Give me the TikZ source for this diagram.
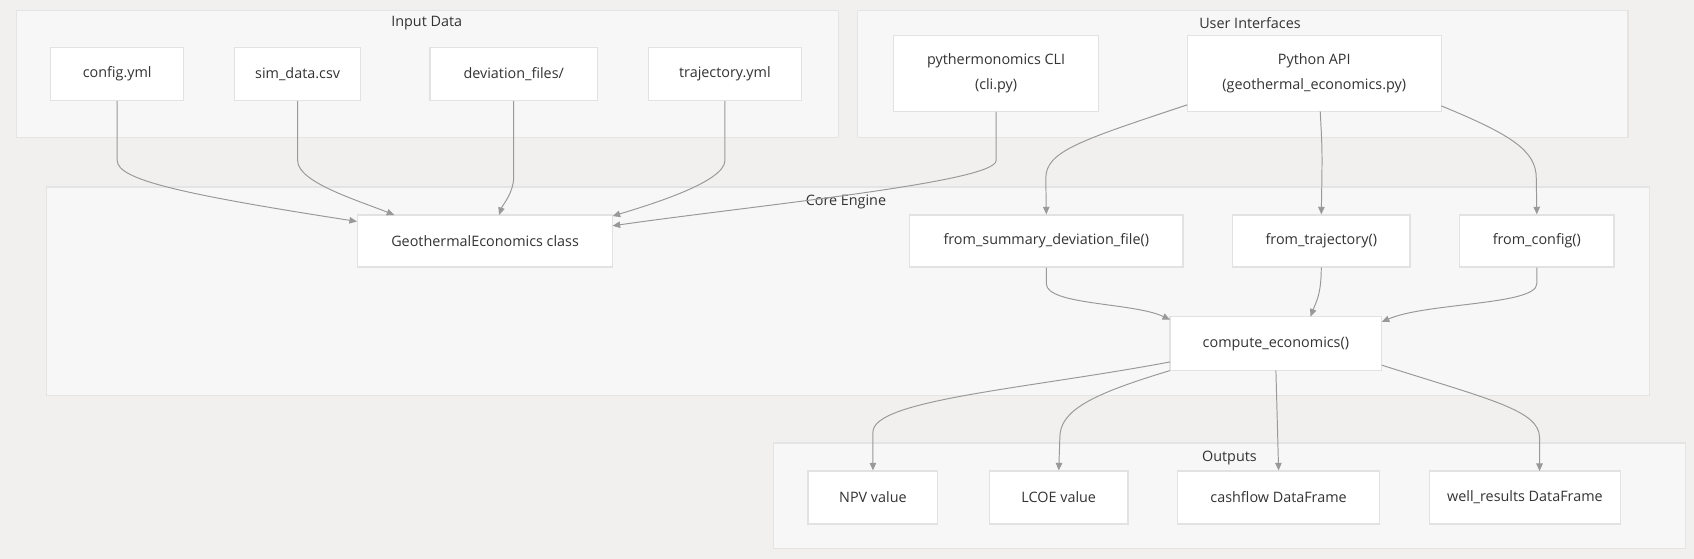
\documentclass[tikz,border=0pt]{standalone}
\usepackage{fontspec}
\setmainfont{Open Sans}
\usetikzlibrary{arrows.meta}
\definecolor{bgc}{HTML}{F1F0EE}
\definecolor{clf}{HTML}{F7F7F7}
\definecolor{cld}{HTML}{E4E4E4}
\definecolor{nbd}{HTML}{E2E2E2}
\definecolor{edc}{HTML}{999999}
\definecolor{txc}{HTML}{333333}
\tikzset{
  cluster/.style={draw=cld, fill=clf, line width=1.2pt},
  box/.style={draw=nbd, fill=white, line width=1.2pt, inner sep=0pt, text=txc, font=\fontsize{13.3}{23}\selectfont, align=center},
  ctitle/.style={text=txc, font=\fontsize{13.3}{15}\selectfont, inner sep=0pt},
  edge/.style={draw=edc, line width=0.9pt, -{Triangle[length=7pt,width=6pt]}},
}
\newcommand{\boxat}[6]{% name, x1, y1, x2, y2, text
  \node[box, minimum width={#4-#2}, minimum height={#5-#3}] (#1) at ({(#2+#4)/2},{(#3+#5)/2}) {#6};}
\begin{document}
\begin{tikzpicture}[x=1pt,y=-1pt]
\fill[bgc] (0,0) rectangle (1568,517);
\useasboundingbox (0,0) rectangle (1568,517);
% clusters
\draw[cluster] (15,10) rectangle (776,127);
\node[ctitle] (tin) at (395,21) {Input Data};
\draw[cluster] (794,10) rectangle (1507,127);
\node[ctitle] (tui) at (1157,21) {User Interfaces};
\draw[cluster] (43,173) rectangle (1527,366);
\node[ctitle] (tce) at (783,187) {Core Engine};
\draw[cluster] (716,410) rectangle (1560,508);
\node[ctitle] (tout) at (1138,424) {Outputs};
% nodes
\boxat{cfg}{47}{44}{170}{93}{config.yml}
\boxat{sim}{217}{44}{334}{93}{sim\_data.csv}
\boxat{dev}{398}{44}{553}{93}{deviation\_files/}
\boxat{traj}{600}{44}{742}{93}{trajectory.yml}
\boxat{cli}{827}{33}{1017}{103}{pythermonomics CLI\\(cli.py)}
\boxat{api}{1099}{33}{1334}{103}{Python API\\(geothermal\_economics.py)}
\boxat{geo}{331}{199}{567}{247}{GeothermalEconomics class}
\boxat{fsd}{842}{199}{1095}{247}{from\_summary\_deviation\_file()}
\boxat{ftr}{1141}{199}{1305}{247}{from\_trajectory()}
\boxat{fcf}{1351}{199}{1494}{247}{from\_config()}
\boxat{comp}{1083}{293}{1279}{343}{compute\_economics()}
\boxat{npv}{748}{436}{868}{485}{NPV value}
\boxat{lcoe}{916}{436}{1044}{485}{LCOE value}
\boxat{cash}{1090}{436}{1277}{485}{cashflow DataFrame}
\boxat{well}{1323}{436}{1500}{485}{well\_results DataFrame}
\coordinate (wellin) at (1425,436);
% edges
\draw[edge] (cfg.south) -- ++(0,55) .. controls +(0,18) and (170,180) .. (geo.north west |- 0,205);
\draw[edge] (sim.south) -- ++(0,55) .. controls +(0,20) and (330,185) .. (365,199);
\draw[edge] (dev.south) -- ++(0,70) .. controls +(0,15) and (465,190) .. (462,199);
\draw[edge] (traj.south) -- ++(0,55) .. controls +(0,20) and (600,190) .. (567,200);
\draw[edge] (cli.south) -- ++(0,45) .. controls +(0,20) and (700,190) .. (567,209);
\draw[edge] (1099,97) .. controls (1000,130) and (968,140) .. (968,165) -- (fsd.north);
\draw[edge] (1222,103) .. controls (1224,140) .. (ftr.north);
\draw[edge] (1334,98) .. controls (1400,125) and (1422,140) .. (1422,165) -- (fcf.north);
\draw[edge] (fsd.south) -- ++(0,15) .. controls +(0,20) and (1050,280) .. (1083,296);
\draw[edge] (ftr.south) .. controls +(0,25) and (1218,280) .. (1213,293);
\draw[edge] (fcf.south) -- ++(0,15) .. controls +(0,20) and (1320,280) .. (1279,298);
\draw[edge] (1083,335) .. controls (950,360) and (808,370) .. (808,400) -- (npv.north);
\draw[edge] (1083,343) .. controls (1010,365) and (981,380) .. (981,405) -- (lcoe.north);
\draw[edge] (1181,343) -- (cash.north);
\draw[edge] (1279,338) .. controls (1380,370) and (1425,380) .. (1425,405) -- (wellin);
\end{tikzpicture}
\end{document}
